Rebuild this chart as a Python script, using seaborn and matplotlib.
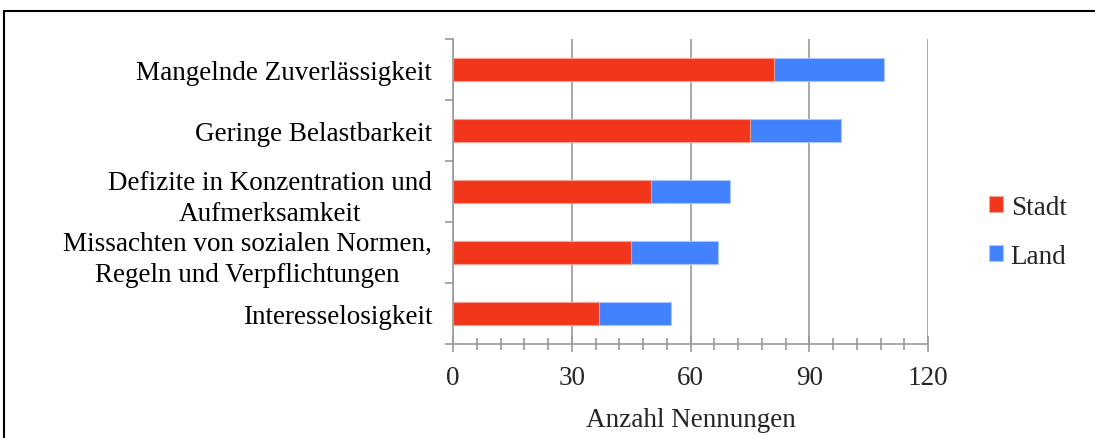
import pandas as pd
import seaborn as sns
import matplotlib.pyplot as plt
from matplotlib.patches import Rectangle
from matplotlib.ticker import MultipleLocator

# Daten
kategorien = [
    "Mangelnde Zuverlässigkeit",
    "Geringe Belastbarkeit",
    "Defizite in Konzentration und\nAufmerksamkeit",
    "Missachten von sozialen Normen,\nRegeln und Verpflichtungen",
    "Interesselosigkeit",
]
stadt = [81, 75, 50, 45, 37]
land = [28, 23, 20, 22, 18]
serien = ["Stadt", "Land"]
farben = ["#F2361B", "#4282FF"]

df = pd.DataFrame({"Kategorie": kategorien, "Stadt": stadt, "Land": land})
df["Gesamt"] = df["Stadt"] + df["Land"]

sns.set_theme(style="white")
plt.rcParams["font.family"] = ["Liberation Serif", "DejaVu Serif"]
fs = 19.5

fig = plt.figure(figsize=(10.95, 4.39), dpi=100)
ax = fig.add_axes([0.4137, 0.2141, 0.8475 - 0.4137, 0.9089 - 0.2141])

# gestapelt: erst Gesamt (Land), dann Stadt darueber
sns.barplot(data=df, x="Gesamt", y="Kategorie", color=farben[1], width=0.39,
            saturation=1, edgecolor="#A9C6FF", linewidth=0.8, ax=ax, label=serien[1])
sns.barplot(data=df, x="Stadt", y="Kategorie", color=farben[0], width=0.39,
            saturation=1, edgecolor="#F7A294", linewidth=0.8, ax=ax, label=serien[0])
handles, labels = ax.get_legend_handles_labels()
if ax.get_legend() is not None:
    ax.get_legend().remove()

ax.set_xlim(0, 120)
ax.set_ylim(4.5, -0.5)
ax.xaxis.set_major_locator(MultipleLocator(30))
ax.xaxis.set_minor_locator(MultipleLocator(6))
ax.xaxis.grid(True, color="#9a9a9a", linewidth=1.2)
ax.set_axisbelow(True)

for s in ["top", "right"]:
    ax.spines[s].set_visible(False)
for s in ["left", "bottom"]:
    ax.spines[s].set_color("#9a9a9a")
    ax.spines[s].set_linewidth(1.2)

# Y-Ticks an den Kategoriegrenzen, Labels mittig
ax.set_yticks([i for i in range(len(kategorien))])
ax.set_yticklabels(kategorien, fontsize=fs, multialignment="center", linespacing=1.35)
ax.set_yticks([i - 0.5 for i in range(len(kategorien) + 1)], minor=True)
ax.tick_params(axis="y", which="major", length=0, pad=15, colors="#000000")
ax.tick_params(axis="y", which="minor", left=True, length=6, width=1.2, color="#9a9a9a")
ax.tick_params(axis="x", which="both", bottom=True, direction="inout", color="#9a9a9a", width=1.2)
ax.tick_params(axis="x", which="major", length=12, labelsize=fs, pad=9)
ax.tick_params(axis="x", which="minor", length=9)

ax.set_xlabel("Anzahl Nennungen", fontsize=fs, labelpad=12)
ax.set_ylabel("")

order = [labels.index(s) for s in serien]
fig.legend([handles[i] for i in order], serien, loc="center left",
           bbox_to_anchor=(0.881, 0.47), frameon=False, fontsize=fs,
           handlelength=0.5, handleheight=0.5, handletextpad=0.3, labelspacing=0.88)

# Rahmen um die Grafik
fig.patches.append(Rectangle((4 / 1095, -0.1), 2, 0.1 + 1 - 12 / 439,
                             transform=fig.transFigure, fill=False,
                             edgecolor="black", linewidth=1.5))

fig.savefig("out.png", dpi=100)
